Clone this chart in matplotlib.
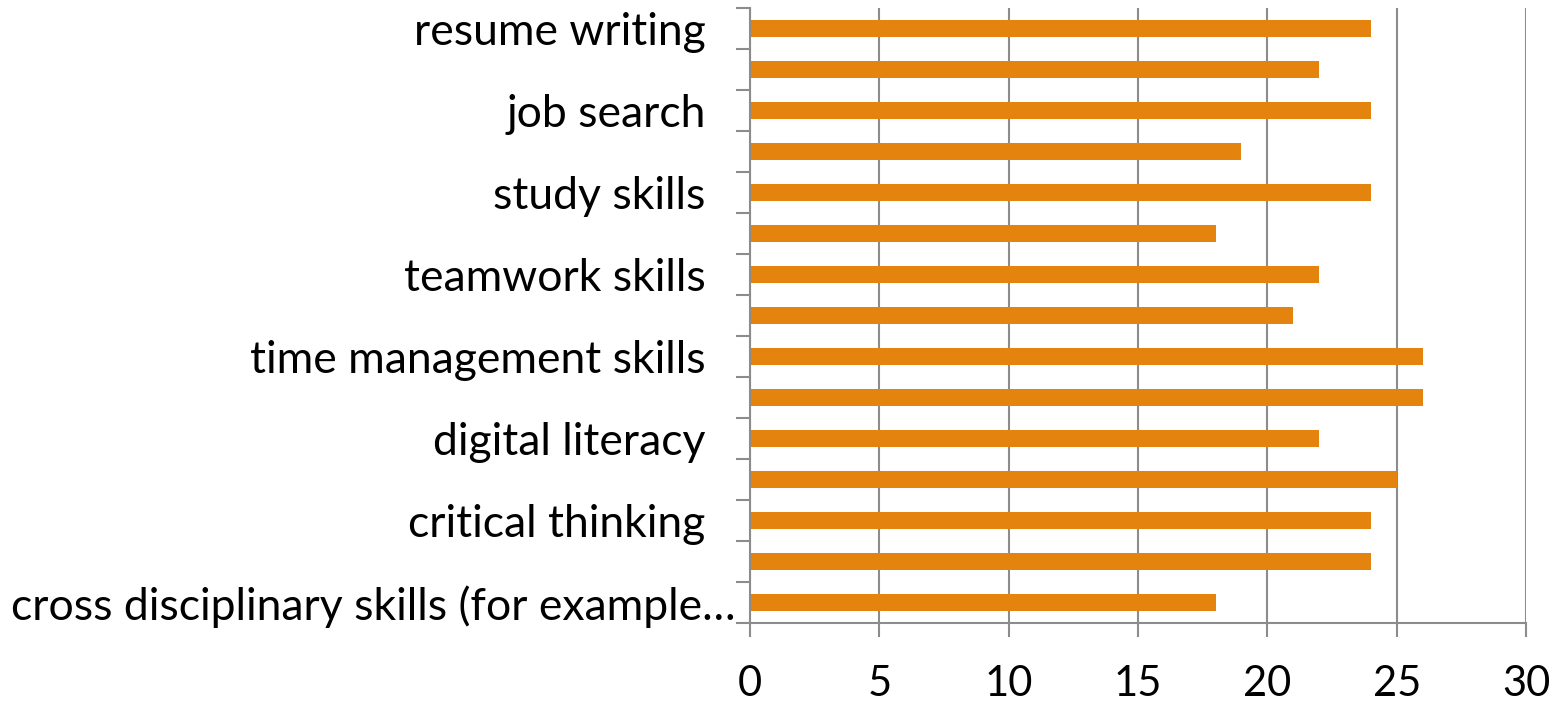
import matplotlib
matplotlib.use("Agg")
import matplotlib.pyplot as plt
import matplotlib.transforms as mtransforms
import numpy as np

# categories top to bottom (only alternate labels shown in the reference)
labels = ["resume writing", "", "job search", "", "study skills", "",
          "teamwork skills", "", "time management skills", "",
          "digital literacy", "", "critical thinking", "",
          "cross disciplinary skills (for example…"]
values = [24, 22, 24, 19, 24, 18, 22, 21, 26, 26, 22, 25, 24, 24, 18]
xticks = [0, 5, 10, 15, 20, 25, 30]

color = "#E5830F"
grid = "#8C8C8C"

plt.rcParams['font.family'] = ['Lato', 'DejaVu Sans']

fig = plt.figure(figsize=(15.63, 7.05), dpi=100)
ax = fig.add_axes([750/1563, 1-623/705, (1526-750)/1563, (623-8)/705])

pos = np.arange(len(values))
ax.barh(pos, values, height=0.42, color=color, zorder=3)

ax.set_ylim(len(values)-0.5, -0.5)
ax.set_xlim(xticks[0], xticks[-1])
ax.set_xticks(xticks)
ax.set_xticklabels([str(t) for t in xticks], fontsize=30)

shown = [i for i, l in enumerate(labels) if l]
ax.set_yticks(shown)
ax.set_yticklabels([labels[i] for i in shown], fontsize=32)
ax.set_yticks(np.arange(len(values)+1) - 0.5, minor=True)

ax.tick_params(axis='y', which='major', length=0, pad=32)
ax.tick_params(axis='y', which='minor', length=10, width=1.5, color=grid, direction='out')
ax.tick_params(axis='x', which='major', length=10, width=1.5, color=grid, direction='out', pad=20)

# the truncated label sits closer to the axis in the reference
for t in ax.get_yticklabels():
    if t.get_text().endswith("…"):
        t.set_transform(t.get_transform() + mtransforms.ScaledTranslation(30/100, 0, fig.dpi_scale_trans))

ax.grid(axis='x', color=grid, linewidth=1.5, zorder=0)
for s in ['top', 'right']:
    ax.spines[s].set_visible(False)
for s in ['left', 'bottom']:
    ax.spines[s].set_color(grid)
    ax.spines[s].set_linewidth(1.5)
    ax.spines[s].set_zorder(4)

fig.savefig("out.png", dpi=100)
